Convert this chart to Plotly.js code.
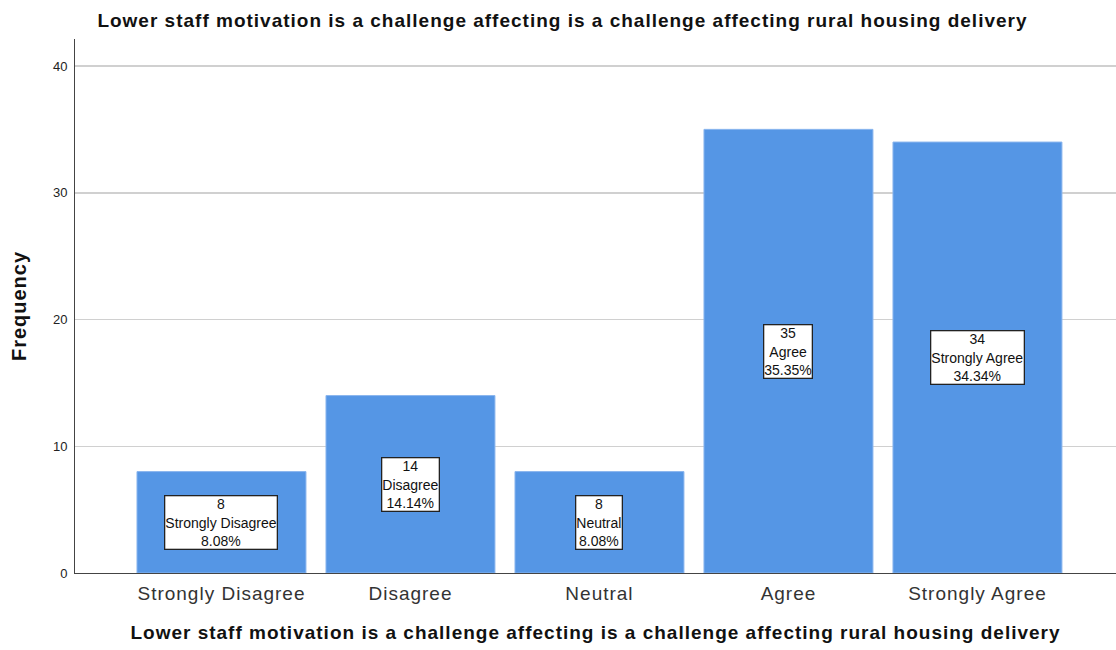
<!DOCTYPE html>
<html>
<head>
<meta charset="utf-8">
<script src="https://cdn.plot.ly/plotly-3.0.1.min.js"></script>
<style>
html,body{margin:0;padding:0;background:#fff;}
#chart{width:1116px;height:650px;}
#chart .gtitle, #chart .xtitle, #chart .ytitle, #chart .xtick text { letter-spacing: 1px; }
</style>
</head>
<body>
<div id="chart"></div>
<script>
const categories = ["Strongly Disagree", "Disagree", "Neutral", "Agree", "Strongly Agree"];
const frequencies = [8, 14, 8, 35, 34];
const percents = ["8.08%", "14.14%", "8.08%", "35.35%", "34.34%"];
const yTicks = [0, 10, 20, 30, 40];
const titleText = "Lower staff motivation is a challenge affecting is a challenge affecting rural housing delivery";

const trace = {
  type: "bar",
  x: categories,
  y: frequencies,
  marker: { color: "#5596e5", line: { color: "#8bb6ee", width: 1 } },
  hoverinfo: "none"
};

const annotations = categories.map((c, i) => ({
  x: c, y: frequencies[i] / 2, xref: "x", yref: "y",
  text: frequencies[i] + "<br>" + c + "<br>" + percents[i],
  showarrow: false,
  bgcolor: "#ffffff", bordercolor: "#222222", borderwidth: 1.3, borderpad: 0,
  font: { family: "Liberation Sans, Arial, sans-serif", size: 14, color: "#111" }
}));

const layout = {
  width: 1116, height: 650,
  margin: { l: 75, r: 0, t: 39, b: 77 },
  paper_bgcolor: "#fff", plot_bgcolor: "#fff",
  font: { family: "Liberation Sans, Arial, sans-serif", color: "#222" },
  title: { text: titleText, x: 0.504, xref: "container", xanchor: "center", y: 0.968, yref: "container", yanchor: "middle",
           font: { size: 19, color: "#111", weight: "bold" } },
  bargap: 0.106,
  showlegend: false,
  xaxis: {
    range: [-0.775, 4.733],
    showline: true, linecolor: "#444", linewidth: 1,
    showgrid: false, ticks: "", tickfont: { size: 19, color: "#333" },
    ticklabelstandoff: 3,
    title: { text: titleText, font: { size: 19, color: "#111", weight: "bold" }, standoff: 22 },
    automargin: false, fixedrange: true
  },
  yaxis: {
    range: [0, 42.13],
    tickvals: yTicks,
    showline: true, linecolor: "#444", linewidth: 1,
    showgrid: true, gridcolor: "#d0d0d0", gridwidth: 1.5,
    zeroline: false, ticks: "", tickfont: { size: 13, color: "#222" },
    ticklabelstandoff: 4,
    title: { text: "Frequency", font: { size: 20, color: "#111", weight: "bold" }, standoff: 20 },
    automargin: false, fixedrange: true
  },
  annotations: annotations
};

Plotly.newPlot("chart", [trace], layout, { displayModeBar: false, staticPlot: true });
</script>
</body>
</html>
